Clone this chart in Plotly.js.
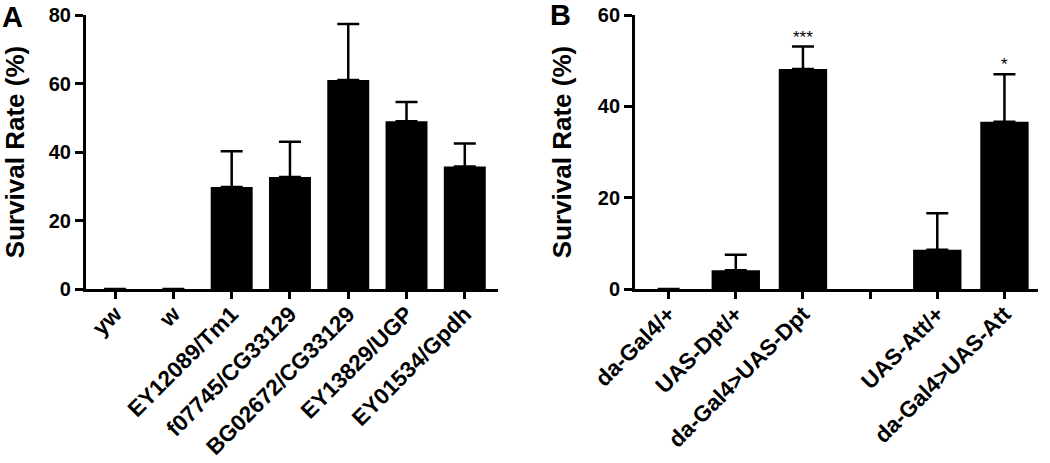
<!DOCTYPE html>
<html>
<head>
<meta charset="utf-8">
<script src="https://cdn.plot.ly/plotly-3.0.1.min.js"></script>
<style>html,body{margin:0;padding:0;background:#fff}#chart{width:1050px;height:463px}</style>
</head>
<body>
<div id="chart"></div>
<script>
// Panel A data
const catsA = ["yw", "w", "EY12089/Tm1", "f07745/CG33129", "BG02672/CG33129", "EY13829/UGP", "EY01534/Gpdh"];
const valsA = [0, 0, 29.8, 32.7, 61.0, 49.0, 35.8];
const errA  = [null, null, 10.4, 10.3, 16.4, 5.6, 6.7];

// Panel B data (blank category is the gap position)
const catsB = ["da-Gal4/+", "UAS-Dpt/+", "da-Gal4>UAS-Dpt", " ", "UAS-Att/+", "da-Gal4>UAS-Att"];
const valsB = [0, 4.1, 48.2, null, 8.6, 36.6];
const errB  = [null, 3.4, 4.9, null, 8.0, 10.4];
const sigB  = ["", "", "***", "", "", "*"];

const FONT = "Liberation Sans, Arial, sans-serif";

function barTrace(cats, vals, errs, xa, ya) {
  return {
    type: "bar", x: cats, y: vals, xaxis: xa, yaxis: ya,
    width: 0.72,
    marker: {color: "#000", line: {width: 0}},
    error_y: {type: "data", symmetric: false, array: errs,
              arrayminus: errs.map(e => e === null ? null : 0),
              color: "#000", thickness: 2.5, width: 11},
    hoverinfo: "skip", showlegend: false
  };
}

const xCommon = {
  type: "category", showline: true, linecolor: "#000", linewidth: 3,
  ticks: "outside", ticklen: 7, tickwidth: 3, tickcolor: "#000",
  ticklabelstandoff: -7,
  tickangle: -45, tickfont: {family: FONT, size: 22.5, color: "#000", weight: "bold"},
  showgrid: false, zeroline: false, fixedrange: true
};
const yCommon = {
  showline: true, linecolor: "#000", linewidth: 3,
  ticks: "outside", ticklen: 8, tickwidth: 3, tickcolor: "#000",
  tickfont: {family: FONT, size: 20, color: "#000", weight: "bold"},
  showgrid: false, zeroline: false, fixedrange: true,
  title: {text: "Survival Rate (%)", font: {family: FONT, size: 26, color: "#000", weight: "bold"}}
};

const annotations = [
  {text: "A", xref: "paper", yref: "paper", x: 0.0, y: 1.06, xanchor: "left", yanchor: "top",
   showarrow: false, font: {family: FONT, size: 29, color: "#000", weight: "bold"}},
  {text: "B", xref: "paper", yref: "paper", x: 0.522, y: 1.065, xanchor: "left", yanchor: "top",
   showarrow: false, font: {family: FONT, size: 29, color: "#000", weight: "bold"}}
];
catsB.forEach((c, i) => {
  if (sigB[i]) {
    annotations.push({text: sigB[i], xref: "x2", yref: "y2", x: c, y: valsB[i] + errB[i],
      xanchor: "center", yanchor: "bottom", yshift: -2, showarrow: false,
      font: {family: FONT, size: 17, color: "#000"}});
  }
});

const layout = {
  width: 1050, height: 463,
  margin: {l: 0, r: 0, t: 15, b: 174},
  paper_bgcolor: "#fff", plot_bgcolor: "#fff",
  xaxis: Object.assign({}, xCommon, {domain: [0.0819, 0.4743], range: [-0.5, 6.57], anchor: "y"}),
  yaxis: Object.assign({}, yCommon, {domain: [0, 1], range: [0, 80], tickvals: [0, 20, 40, 60, 80], anchor: "x"}),
  xaxis2: Object.assign({}, xCommon, {domain: [0.6048, 0.9886], range: [-0.5, 5.5], anchor: "y2"}),
  yaxis2: Object.assign({}, yCommon, {domain: [0, 1], range: [0, 60], tickvals: [0, 20, 40, 60], anchor: "x2"}),
  annotations: annotations
};

Plotly.newPlot("chart", [
  barTrace(catsA, valsA, errA, "x", "y"),
  barTrace(catsB, valsB, errB, "x2", "y2")
], layout, {displayModeBar: false, staticPlot: true});
</script>
</body>
</html>
